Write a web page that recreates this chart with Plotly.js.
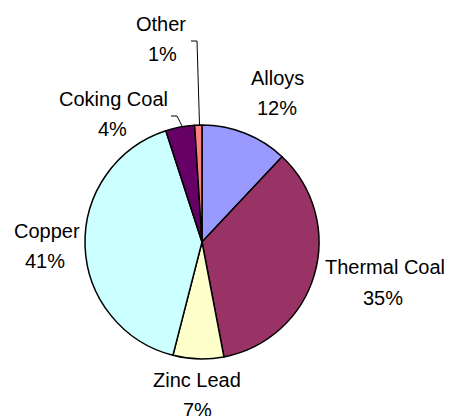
<!DOCTYPE html>
<html>
<head>
<meta charset="utf-8">
<script src="https://cdn.plot.ly/plotly-3.0.1.min.js"></script>
<style>html,body{margin:0;padding:0;background:#fff;}#chart{width:450px;height:416px;}</style>
</head>
<body>
<div id="chart"></div>
<script>
var categories = ["Alloys", "Thermal Coal", "Zinc Lead", "Copper", "Coking Coal", "Other"];
var shares = [12, 35, 7, 41, 4, 1];
var sliceColors = ["#9999FF", "#993366", "#FFFFCC", "#CCFFFF", "#660066", "#FF8080"];

var W = 450, H = 416;
function px(x){ return x / W; }
function py(y){ return 1 - y / H; }

// label placement (pixel centers of name line and percent line)
var labelPos = [
  {x: 277, y1: 78,  x2: 277, y2: 108},
  {x: 385, y1: 267, x2: 383, y2: 298},
  {x: 197, y1: 380, x2: 197, y2: 410},
  {x: 47,  y1: 231, x2: 45,  y2: 261},
  {x: 113, y1: 99,  x2: 112, y2: 129},
  {x: 161, y1: 24,  x2: 162, y2: 54}
];

var fontSpec = {family:'Liberation Sans, Arial, sans-serif', size:20, color:'#000'};
var annotations = [];
categories.forEach(function(c, i){
  var p = labelPos[i];
  annotations.push({xref:'paper', yref:'paper', x:px(p.x), y:py(p.y1), text:c, showarrow:false,
    xanchor:'center', yanchor:'middle', font:fontSpec});
  annotations.push({xref:'paper', yref:'paper', x:px(p.x2), y:py(p.y2), text:shares[i] + '%', showarrow:false,
    xanchor:'center', yanchor:'middle', font:fontSpec});
});

var shapes = [
  {type:'path', xref:'paper', yref:'paper',
   path:'M ' + px(191) + ' ' + py(41) + ' L ' + px(197) + ' ' + py(41) + ' L ' + px(199.5) + ' ' + py(125),
   line:{color:'#000', width:1}},
  {type:'path', xref:'paper', yref:'paper',
   path:'M ' + px(171) + ' ' + py(116) + ' L ' + px(177) + ' ' + py(116) + ' L ' + px(182) + ' ' + py(126),
   line:{color:'#000', width:1}}
];

var trace = {
  type: 'pie',
  labels: categories,
  values: shares,
  sort: false,
  direction: 'clockwise',
  rotation: 0,
  textinfo: 'none',
  hoverinfo: 'label+percent',
  marker: {colors: sliceColors, line: {color: '#000', width: 1.5}},
  domain: {x: [px(85), px(319)], y: [py(359), py(125)]},
  showlegend: false
};

Plotly.newPlot('chart', [trace], {
  width: W, height: H,
  margin: {l:0, r:0, t:0, b:0},
  paper_bgcolor: '#fff',
  showlegend: false,
  annotations: annotations,
  shapes: shapes
}, {staticPlot: true});
</script>
</body>
</html>
